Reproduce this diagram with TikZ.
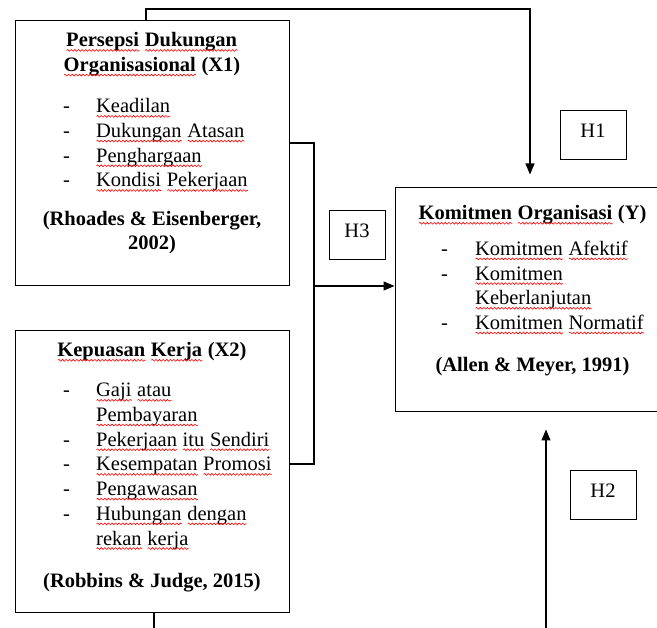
\documentclass[tikz,border=0pt]{standalone}
\usepackage{fontspec}
\setmainfont{Liberation Serif}
\usetikzlibrary{arrows.meta,decorations.pathmorphing}
% garis merah bergelombang di bawah kata
\newlength\lebarkata
\newcommand\ejaan[1]{\settowidth\lebarkata{#1}\leavevmode\rlap{#1}%
  \tikz[baseline=3.5pt,x=1pt,y=1pt]\draw[red,line width=0.6pt,decorate,
    decoration={snake,amplitude=0.9pt,segment length=3.6pt}] (0,0) -- (\lebarkata,0);}

\begin{document}
\begin{tikzpicture}[x=1pt,y=-1pt,
  kotak/.style={draw,line width=1pt,inner sep=0pt},
  huruf/.style={font=\fontsize{20.5}{24.7}\selectfont},
  judul/.style={huruf,font=\fontsize{20.5}{24.7}\selectfont\bfseries,align=center,inner sep=0pt},
  daftar/.style={huruf,anchor=west,inner sep=0pt},
  label/.style={kotak,huruf,text depth=9pt,minimum width=66pt,minimum height=49pt},
  panah/.style={line width=1.1pt,-{Triangle[length=11pt,width=9pt]}}]
  \useasboundingbox (0,0) rectangle (657,628);
  \clip (0,0) rectangle (657,628);
  % kotak variabel
  \node[kotak,minimum width=274pt,minimum height=265pt] (x1) at (152,153.5) {};
  \node[kotak,minimum width=274pt,minimum height=282pt] (x2) at (152,472) {};
  \node[kotak,minimum width=275pt,minimum height=224pt] (y) at (532.5,300) {};
  % isi X1
  \node[judul] (jx1) at (152,54.5) {\ejaan{Persepsi} \ejaan{Dukungan}\\\ejaan{Organisasional} (X1)};
  \node[daftar] (dx1) at (63,145) {\begin{tabular}{@{}p{33pt}@{}l@{}}
    - & \ejaan{Keadilan}\\
    - & \ejaan{Dukungan} \ejaan{Atasan}\\
    - & \ejaan{Penghargaan}\\
    - & \ejaan{Kondisi} \ejaan{Pekerjaan}
  \end{tabular}};
  \node[judul] (sx1) at (152,232.5) {(Rhoades \& Eisenberger,\\2002)};
  % isi X2
  \node[judul] (jx2) at (152,352) {\ejaan{Kepuasan} \ejaan{Kerja} (X2)};
  \node[daftar] (dx2) at (63,466) {\begin{tabular}{@{}p{33pt}@{}l@{}}
    - & \ejaan{Gaji} \ejaan{atau}\\
      & \ejaan{Pembayaran}\\
    - & \ejaan{Pekerjaan} \ejaan{itu} \ejaan{Sendiri}\\
    - & \ejaan{Kesempatan} \ejaan{Promosi}\\
    - & \ejaan{Pengawasan}\\
    - & \ejaan{Hubungan} \ejaan{dengan}\\
      & \ejaan{rekan} \ejaan{kerja}
  \end{tabular}};
  \node[judul] (sx2) at (152,583) {(Robbins \& Judge, 2015)};
  % isi Y
  \node[judul] (jy) at (532.5,215) {\ejaan{Komitmen} \ejaan{Organisasi} (Y)};
  \node[daftar] (dy) at (441,287.5) {\begin{tabular}{@{}p{34pt}@{}l@{}}
    - & \ejaan{Komitmen} \ejaan{Afektif}\\
    - & \ejaan{Komitmen}\\
      & \ejaan{Keberlanjutan}\\
    - & \ejaan{Komitmen} \ejaan{Normatif}
  \end{tabular}};
  \node[judul] (sy) at (532.5,367) {(Allen \& Meyer, 1991)};
  % hipotesis
  \node[label] (h1) at (593,135.5) {H1};
  \node[label,minimum width=56pt] (h3) at (357,235.5) {H3};
  \node[label] (h2) at (603,495.5) {H2};
  % garis penghubung
  \coordinate (cabang) at (314,286);
  \coordinate (bawah) at (546,640);
  \draw[panah] ([xshift=-6pt]x1.north) |- (530,9) -- ([xshift=-2.5pt,yshift=13pt]y.north);
  \draw[line width=1.1pt] ([yshift=10.5pt]x1.east) -| (cabang) |- ([yshift=8pt]x2.east);
  \draw[panah] (cabang) -- (cabang -| y.west);
  \draw[line width=1.1pt] ([xshift=2pt]x2.south) -- ++(0,20);
  \draw[panah] (bawah) -- ([xshift=13.5pt,yshift=-17pt]y.south);
\end{tikzpicture}
\end{document}
